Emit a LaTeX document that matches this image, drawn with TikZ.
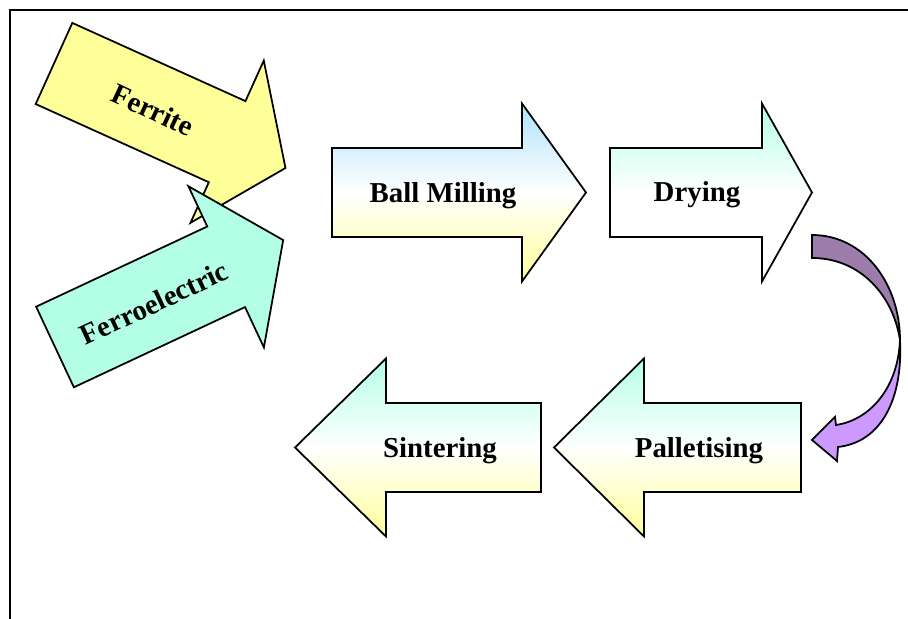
\documentclass[tikz,border=0pt]{standalone}
\usepackage{fontspec}
\setmainfont{Liberation Serif}
\definecolor{ferriteyellow}{RGB}{255,255,153}
\definecolor{ferromint}{RGB}{179,255,230}
\definecolor{millblue}{RGB}{176,226,250}
\definecolor{curvedark}{RGB}{155,124,171}
\definecolor{curvelight}{RGB}{204,153,255}
\tikzset{
    arrowline/.style={draw=black, line width=0.5pt, line join=miter},
    steplabel/.style={font=\bfseries\fontsize{8.2}{10}\selectfont, inner sep=0pt},
}
\begin{document}
\begin{tikzpicture}[x=0.01cm, y=-0.01cm]
    % Define the arrow proportions
    \def\bodyhalf{44.5}
    \def\headhalf{89}

    % Function to draw a block arrow
    \newcommand{\drawblockarrow}[5]{
        \draw[arrowline, #5, shift={#1}, rotate=#2] (0,-\bodyhalf) -- (#3,-\bodyhalf) -- (#3,-\headhalf) -- ({#3+#4},0) -- (#3,\headhalf) -- (#3,\bodyhalf) -- (0,\bodyhalf) -- cycle;
    }

    \useasboundingbox (0,0) rectangle (908,619);

    % Draw the frame
    \draw[line width=0.6pt] (10,619) -- (10,10) -- (908,10);

    % Draw the two input arrows
    \drawblockarrow{(54,63.5)}{-24.3}{190}{64}{fill=ferriteyellow}
    \node[steplabel, rotate=-25] (ferrite) at (153,110) {Ferrite};
    \drawblockarrow{(55,347)}{25.1}{189}{63}{fill=ferromint}
    \node[steplabel, rotate=25] (ferroelectric) at (154,303) {Ferroelectric};

    % Draw the upper process row
    \drawblockarrow{(332,192.5)}{0}{190}{64}{top color=millblue, bottom color=ferriteyellow, middle color=white}
    \node[steplabel, anchor=base] (milling) at (443,203) {Ball Milling};
    \drawblockarrow{(610,192.5)}{0}{152}{50}{top color=ferromint, bottom color=white, middle color=white}
    \node[steplabel, anchor=base] (drying) at (697,202) {Drying};

    % Draw the curved return arrow
    \draw[arrowline, fill=curvedark] (812,235) .. controls (865,235) and (900,285) .. (900,340) .. controls (893,295) and (860,258) .. (812,258) -- cycle;
    \draw[arrowline, fill=curvelight] (900,340) .. controls (898,388) and (870,420) .. (836,425) -- (835,417) -- (812,440) -- (837,461) -- (838,447) .. controls (882,442) and (903,398) .. (900,340) -- cycle;

    % Draw the lower process row
    \drawblockarrow{(801,447.5)}{0}{-157}{-90}{top color=ferromint, bottom color=ferriteyellow, middle color=white}
    \node[steplabel, anchor=base] (palletising) at (699,458) {Palletising};
    \drawblockarrow{(541,447.5)}{0}{-155}{-91}{top color=ferromint, bottom color=ferriteyellow, middle color=white}
    \node[steplabel, anchor=base] (sintering) at (440,458) {Sintering};
\end{tikzpicture}
\end{document}
